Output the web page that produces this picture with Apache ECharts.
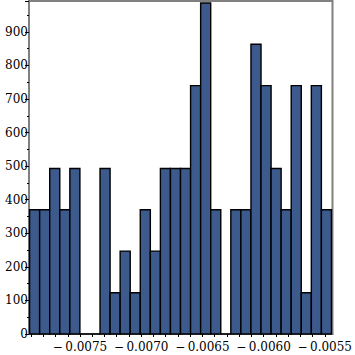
<!DOCTYPE html>
<html><head><meta charset="utf-8">
<script src="https://cdn.jsdelivr.net/npm/echarts@6/dist/echarts.min.js"></script>
<style>html,body{margin:0;padding:0;background:#fff}#c{width:355px;height:355px}</style>
</head><body><div id="c"></div>
<script>
// Histogram data
const binStart = -0.007912;
const binWidth = 0.0000806;
const counts = [370,370,493,370,493,0,0,493,123,247,123,370,247,493,493,493,740,986,370,0,370,370,863,740,493,370,740,123,740,370];
const xTickMin = -0.0079, xTickMax = -0.0055, xTickStep = 0.0001;
const yTicks = [0,100,200,300,400,500,600,700,800,900];

// layout
const xMin = -0.0079167, xMax = -0.0054856, yMax = 992;
const L = 29, R = 332.5, T = 1, B = 334;
const W = R - L;
const px = v => L + (v - xMin) / (xMax - xMin) * W;

const rows = counts.map((c, i) => [binStart + i * binWidth, binStart + (i + 1) * binWidth, c]);
const font = 'DejaVu Serif';

const chart = echarts.init(document.getElementById('c'), null, {renderer: 'svg'});
chart.setOption({
  animation: false,
  grid: [
    {left: L, top: T, width: W, height: B - T, show: true, borderColor: '#808080', borderWidth: 2, containLabel: false},
    {left: px(xTickMin), top: T, width: px(xTickMax) - px(xTickMin), height: B - T, show: false}
  ],
  xAxis: [
    {type: 'value', gridIndex: 0, min: xMin, max: xMax, axisLine: {show: true, lineStyle: {color: '#808080', width: 2}},
     axisTick: {show: false}, axisLabel: {show: false}, splitLine: {show: false}},
    {type: 'value', gridIndex: 1, min: xTickMin, max: xTickMax, interval: xTickStep,
     axisLine: {show: false}, splitLine: {show: false},
     axisTick: {show: true, length: 3, lineStyle: {color: '#000', width: 1}},
     axisLabel: {show: true, margin: 7, color: '#000', fontFamily: font, fontSize: 12,
       showMinLabel: true, showMaxLabel: true,
       formatter: v => {
         const k = Math.round(v * 10000);
         if (k % 5 !== 0) return '';
         return '\u2212\u2009' + Math.abs(v).toFixed(4);
       }}}
  ],
  yAxis: [
    {type: 'value', gridIndex: 0, min: 0, max: yMax, interval: 100,
     axisLine: {show: true, lineStyle: {color: '#808080', width: 2}},
     axisTick: {show: true, length: 4, lineStyle: {color: '#000', width: 1}},
     minorTick: {show: true, splitNumber: 2, length: 2, lineStyle: {color: '#000', width: 1}},
     splitLine: {show: false},
     axisLabel: {show: true, margin: 1, color: '#000', fontFamily: font, fontSize: 12, showMaxLabel: false,
       formatter: v => (yTicks.indexOf(Math.round(v)) >= 0 ? String(Math.round(v)) : '')}},
    {type: 'value', gridIndex: 1, show: false, min: 0, max: yMax}
  ],
  series: [{
    type: 'custom', xAxisIndex: 0, yAxisIndex: 0,
    data: rows,
    encode: {x: [0, 1], y: 2},
    renderItem: (params, api) => {
      const p0 = api.coord([api.value(0), api.value(2)]);
      const p1 = api.coord([api.value(1), 0]);
      return {type: 'rect', shape: {x: p0[0], y: p0[1], width: p1[0] - p0[0], height: p1[1] - p0[1]},
        style: {fill: '#3d5a8c', stroke: '#000', lineWidth: 1.4}};
    }
  }]
});
</script></body></html>
